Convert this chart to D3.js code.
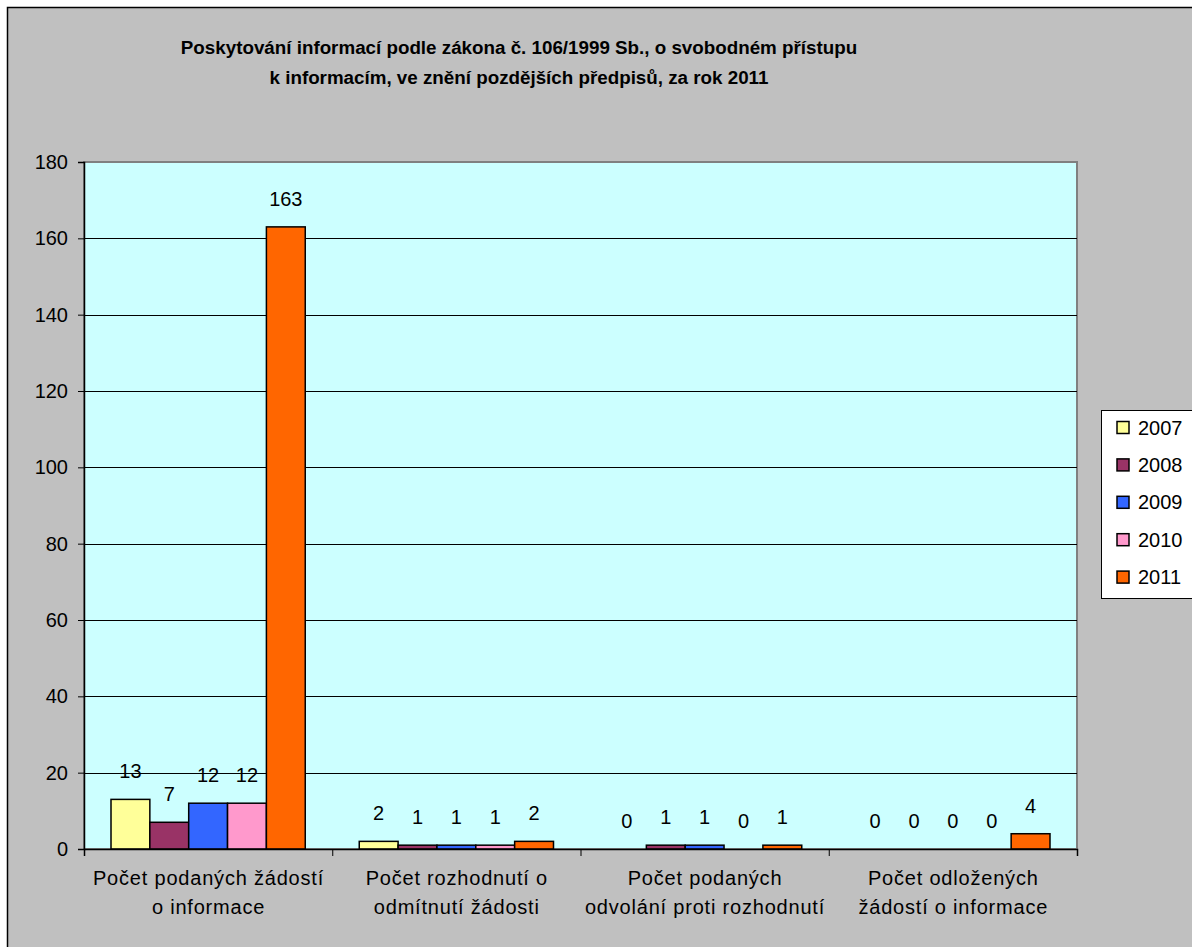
<!DOCTYPE html>
<html>
<head>
<meta charset="utf-8">
<script src="https://cdn.jsdelivr.net/npm/d3@7"></script>
<style>
  body { margin: 0; background: #fff; }
  svg { display: block; }
  text { font-family: "Liberation Sans", Arial, sans-serif; fill: #000; }
</style>
</head>
<body>
<div id="chart"></div>
<script>
// data
var categories = [
  ["Počet podaných žádostí", "o informace"],
  ["Počet rozhodnutí o", "odmítnutí žádosti"],
  ["Počet podaných", "odvolání proti rozhodnutí"],
  ["Počet odložených", "žádostí o informace"]
];
var years = ["2007", "2008", "2009", "2010", "2011"];
var values2007 = [13, 2, 0, 0];
var values2008 = [7, 1, 1, 0];
var values2009 = [12, 1, 1, 0];
var values2010 = [12, 1, 0, 0];
var values2011 = [163, 2, 1, 4];
var yTicks = [0, 20, 40, 60, 80, 100, 120, 140, 160, 180];
var colors = ["#FFFF99", "#993366", "#3366FF", "#FF99CC", "#FF6600"];
var titleLines = [
  "Poskytování informací podle zákona č. 106/1999 Sb., o svobodném přístupu",
  "k informacím, ve znění pozdějších předpisů, za rok 2011"
];

var series = [values2007, values2008, values2009, values2010, values2011];

var W = 1192, H = 947;
var plot = { left: 84, top: 162, right: 1077, bottom: 849 };

var svg = d3.select("#chart").append("svg")
  .attr("width", W)
  .attr("height", H);

// chart area
svg.append("rect")
  .attr("x", 7.5).attr("y", 7.5)
  .attr("width", W + 10).attr("height", H + 10)
  .attr("fill", "#C0C0C0")
  .attr("stroke", "#000")
  .attr("stroke-width", 1.5);

// title
svg.selectAll("text.title").data(titleLines).enter().append("text")
  .attr("class", "title")
  .attr("x", 519)
  .attr("y", (d, i) => 54 + i * 30)
  .attr("text-anchor", "middle")
  .attr("font-size", "18.8px")
  .attr("font-weight", "bold")
  .text(d => d);

var x0 = d3.scaleBand()
  .domain(d3.range(categories.length))
  .range([plot.left, plot.right]);

var x1 = d3.scaleBand()
  .domain(d3.range(years.length))
  .range([27, x0.bandwidth() - 27]);

var y = d3.scaleLinear()
  .domain([0, 180])
  .range([plot.bottom, plot.top]);

// plot area
svg.append("rect")
  .attr("x", plot.left).attr("y", plot.top)
  .attr("width", plot.right - plot.left)
  .attr("height", plot.bottom - plot.top)
  .attr("fill", "#CCFFFF")
  .attr("stroke", "#808080")
  .attr("stroke-width", 2);

// gridlines
svg.append("g")
  .selectAll("line")
  .data(yTicks.filter(t => t > 0 && t < 180))
  .enter().append("line")
  .attr("x1", plot.left).attr("x2", plot.right)
  .attr("y1", d => Math.round(y(d)) + 0.5)
  .attr("y2", d => Math.round(y(d)) + 0.5)
  .attr("stroke", "#000")
  .attr("stroke-width", 1);

// y axis
var yAxis = d3.axisLeft(y)
  .tickValues(yTicks)
  .tickSize(6)
  .tickPadding(10);
var gy = svg.append("g")
  .attr("transform", "translate(" + plot.left + ",0)")
  .call(yAxis);
gy.select(".domain").attr("stroke", "#000").attr("stroke-width", 1.5);
gy.selectAll(".tick line").attr("stroke", "#000");
gy.selectAll(".tick text")
  .attr("font-size", "20px")
  .attr("font-family", "'Liberation Sans', Arial, sans-serif")
  .attr("fill", "#000");

// bars
var groups = svg.append("g").selectAll("g")
  .data(categories.map((c, i) => i))
  .enter().append("g")
  .attr("transform", d => "translate(" + x0(d) + ",0)");

groups.selectAll("rect")
  .data(ci => series.map((s, si) => ({ si: si, v: s[ci] })))
  .enter().append("rect")
  .attr("x", d => x1(d.si))
  .attr("y", d => y(d.v))
  .attr("width", x1.bandwidth())
  .attr("height", d => y(0) - y(d.v))
  .attr("fill", d => colors[d.si])
  .attr("stroke", "#000")
  .attr("stroke-width", 1.5)
  .attr("visibility", d => d.v > 0 ? "visible" : "hidden");

groups.selectAll("text")
  .data(ci => series.map((s, si) => ({ si: si, v: s[ci] })))
  .enter().append("text")
  .attr("x", d => x1(d.si) + x1.bandwidth() / 2)
  .attr("y", d => y(d.v) - 21)
  .attr("text-anchor", "middle")
  .attr("font-size", "20px")
  .text(d => d.v);

// x axis
var xAxis = d3.axisBottom(d3.scaleLinear().domain([0, 4]).range([plot.left, plot.right]))
  .tickValues([0, 1, 2, 3, 4])
  .tickSize(7)
  .tickFormat("");
var gx = svg.append("g")
  .attr("transform", "translate(0," + plot.bottom + ")")
  .call(xAxis);
gx.select(".domain").attr("stroke", "#000").attr("stroke-width", 1.5);
gx.selectAll(".tick line").attr("stroke", "#000");

// category labels
categories.forEach(function (lines, i) {
  svg.append("text")
    .attr("text-anchor", "middle")
    .attr("font-size", "20px")
    .attr("letter-spacing", "0.8px")
    .selectAll("tspan").data(lines).enter().append("tspan")
    .attr("x", x0(i) + x0.bandwidth() / 2 + 0.4)
    .attr("y", (d, k) => 885 + k * 29)
    .text(d => d);
});

// legend
var legend = svg.append("g");
legend.append("rect")
  .attr("x", 1101.5).attr("y", 410.5)
  .attr("width", 120).attr("height", 188)
  .attr("fill", "#fff")
  .attr("stroke", "#000")
  .attr("stroke-width", 1);
var items = legend.selectAll("g.item").data(years).enter().append("g")
  .attr("class", "item")
  .attr("transform", (d, i) => "translate(1117," + (427.5 + i * 37.4) + ")");
items.append("rect")
  .attr("x", 0).attr("y", -6)
  .attr("width", 12).attr("height", 12)
  .attr("fill", (d, i) => colors[i])
  .attr("stroke", "#000")
  .attr("stroke-width", 1.5);
items.append("text")
  .attr("x", 21)
  .attr("y", 7)
  .attr("font-size", "20px")
  .text(d => d);
</script>
</body>
</html>
